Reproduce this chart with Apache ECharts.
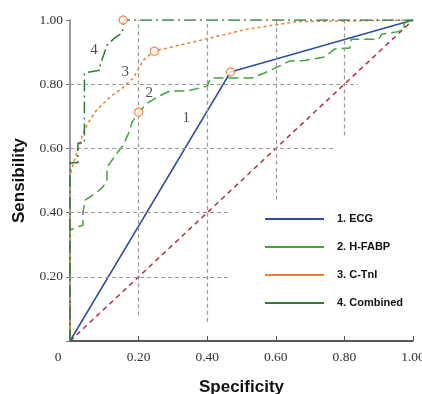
<!DOCTYPE html>
<html>
<head>
<meta charset="utf-8">
<script src="https://cdn.jsdelivr.net/npm/echarts@6.0.0/dist/echarts.min.js"></script>
<style>
  html, body { margin: 0; padding: 0; background: #fff; }
  #chart { width: 422px; height: 394px; }
</style>
</head>
<body>
<div id="chart"></div>
<script>
// ROC curves
const ecgX = [0, 0.468, 1];
const ecgY = [0, 0.838, 1];

const hfabpX = [0, 0, 0.015, 0.038, 0.038, 0.044, 0.079, 0.096, 0.108, 0.108, 0.117, 0.14, 0.155, 0.175, 0.18, 0.2, 0.225, 0.254, 0.292, 0.342, 0.40, 0.41, 0.462, 0.529, 0.567, 0.598, 0.64, 0.685, 0.743, 0.772, 0.816, 0.82, 0.90, 0.909, 0.953, 0.974, 0.974, 1];
const hfabpY = [0, 0.346, 0.352, 0.361, 0.402, 0.439, 0.464, 0.48, 0.50, 0.542, 0.555, 0.589, 0.61, 0.657, 0.68, 0.713, 0.74, 0.76, 0.779, 0.779, 0.794, 0.819, 0.819, 0.819, 0.835, 0.85, 0.872, 0.874, 0.885, 0.91, 0.913, 0.94, 0.94, 0.956, 0.963, 0.97, 0.99, 1];

const ctniX = [0, 0, 0.01, 0.023, 0.038, 0.053, 0.078, 0.117, 0.155, 0.185, 0.214, 0.246, 0.30, 0.41, 0.51, 0.66, 1];
const ctniY = [0, 0.51, 0.555, 0.595, 0.648, 0.68, 0.72, 0.76, 0.79, 0.82, 0.875, 0.903, 0.917, 0.944, 0.97, 0.995, 1];

const combX = [0, 0, 0.023, 0.023, 0.042, 0.042, 0.088, 0.088, 0.108, 0.13, 0.152, 0.155, 0.155, 1];
const combY = [0, 0.555, 0.555, 0.617, 0.617, 0.835, 0.844, 0.86, 0.922, 0.944, 0.96, 0.98, 1, 1];

// cut-off points (orange circles)
const cutX = [0.468, 0.2, 0.246, 0.155];
const cutY = [0.838, 0.713, 0.903, 1.0];

// curve number labels
const tagText = ['1', '2', '3', '4'];
const tagX = [0.339, 0.231, 0.161, 0.07];
const tagY = [0.695, 0.773, 0.838, 0.907];

const seriesNames = ['1. ECG', '2. H-FABP', '3. C-TnI', '4. Combined'];
const tickLabels = ['0', '0.20', '0.40', '0.60', '0.80', '1.00'];

const pairs = (xs, ys) => xs.map((x, i) => [x, ys[i]]);

// partial dashed guide lines: [x1, y1, x2, y2]
const guides = [
  [0.2, 0.08, 0.2, 1], [0.4, 0.06, 0.4, 1], [0.6, 0.44, 0.6, 1], [0.8, 0.64, 0.8, 1], [1, 0.96, 1, 1.01],
  [0, 0.8, 0.84, 0.8], [0, 0.6, 0.77, 0.6], [0, 0.4, 0.46, 0.4], [0, 0.2, 0.46, 0.2]
];

const colors = {
  ecg: '#2c4f9e',
  hfabp: '#3da53d',
  ctni: '#f07c32',
  comb: '#2f7a3a',
  ref: '#b0323a',
  guide: '#9a9a9a'
};

const serif = '"Liberation Serif", "DejaVu Serif", serif';
const sans = '"Liberation Sans", Arial, sans-serif';

const chart = echarts.init(document.getElementById('chart'));

const option = {
  animation: false,
  grid: { left: 70, right: 9, top: 20, bottom: 53, outerBoundsMode: 'none' },
  xAxis: {
    type: 'value',
    min: 0, max: 1, interval: 0.2,
    name: 'Specificity',
    nameLocation: 'middle',
    nameGap: 38,
    nameTextStyle: { fontFamily: sans, fontWeight: 'bold', fontSize: 17, color: '#111' },
    axisLine: { lineStyle: { color: '#222', width: 1.5 } },
    axisTick: { inside: true, length: 5, lineStyle: { color: '#555' } },
    splitLine: { show: false },
    axisLabel: {
      margin: 9,
      fontFamily: serif, fontSize: 13.5, color: '#333',
      formatter: (v) => {
        const t = tickLabels[Math.round(v * 5)];
        return v === 0 ? '{z|' + t + '}' : t;
      },
      rich: { z: { fontFamily: serif, fontSize: 13.5, color: '#333', padding: [0, 24, 0, 0] } }
    }
  },
  yAxis: {
    type: 'value',
    min: 0, max: 1, interval: 0.2,
    name: 'Sensibility',
    nameLocation: 'middle',
    nameGap: 42,
    nameTextStyle: { fontFamily: sans, fontWeight: 'bold', fontSize: 17, color: '#111' },
    axisLine: { show: true, lineStyle: { color: '#7a7a7a', width: 1.5 } },
    axisTick: { show: true, length: 4, lineStyle: { color: '#777' } },
    splitLine: { show: false },
    axisLabel: {
      margin: 7,
      fontFamily: serif, fontSize: 13.5, color: '#333',
      formatter: (v) => (v === 0 ? '' : tickLabels[Math.round(v * 5)])
    }
  },
  legend: {
    orient: 'vertical',
    left: 265,
    top: 212,
    padding: 0,
    itemWidth: 59,
    itemHeight: 2,
    itemGap: 14,
    icon: 'rect',
    textStyle: { fontFamily: sans, fontWeight: 'bold', fontSize: 11, color: '#111', lineHeight: 14, padding: [0, 0, 0, 8] },
    data: seriesNames
  },
  series: [
    {
      name: 'ref',
      type: 'line',
      data: [[0, 0], [1, 1]],
      symbol: 'none',
      silent: true,
      lineStyle: { color: colors.ref, width: 1.5, type: [5, 4] },
      markLine: {
        silent: true,
        symbol: 'none',
        label: { show: false },
        lineStyle: { color: colors.guide, width: 1.2, type: [4, 3] },
        data: guides.map(g => [{ coord: [g[0], g[1]] }, { coord: [g[2], g[3]] }])
      },
      z: 1
    },
    {
      name: seriesNames[0],
      type: 'line',
      data: pairs(ecgX, ecgY),
      symbol: 'none',
      color: colors.ecg,
      lineStyle: { color: colors.ecg, width: 1.5 },
      z: 3
    },
    {
      name: seriesNames[1],
      type: 'line',
      data: pairs(hfabpX, hfabpY),
      symbol: 'none',
      color: colors.hfabp,
      lineStyle: { color: colors.hfabp, width: 1.5, type: [10, 5] },
      z: 3
    },
    {
      name: seriesNames[2],
      type: 'line',
      data: pairs(ctniX, ctniY),
      symbol: 'none',
      color: colors.ctni,
      lineStyle: { color: colors.ctni, width: 1.5, type: [3, 3] },
      z: 4
    },
    {
      name: seriesNames[3],
      type: 'line',
      data: pairs(combX, combY),
      symbol: 'none',
      color: colors.comb,
      lineStyle: { color: colors.comb, width: 1.5, type: [12, 4, 2, 4] },
      z: 5
    },
    {
      name: 'cutoff',
      type: 'scatter',
      data: pairs(cutX, cutY),
      symbol: 'circle',
      symbolSize: 8,
      itemStyle: { color: '#fff', borderColor: colors.ctni, borderWidth: 1.5 },
      z: 6
    },
    {
      name: 'tags',
      type: 'scatter',
      data: tagText.map((t, i) => ({ value: [tagX[i], tagY[i]], name: t })),
      symbolSize: 0,
      label: {
        show: true,
        position: 'inside',
        formatter: (p) => p.name,
        fontFamily: serif, fontSize: 15, color: '#222'
      },
      z: 7
    }
  ]
};

chart.setOption(option);
</script>
</body>
</html>
